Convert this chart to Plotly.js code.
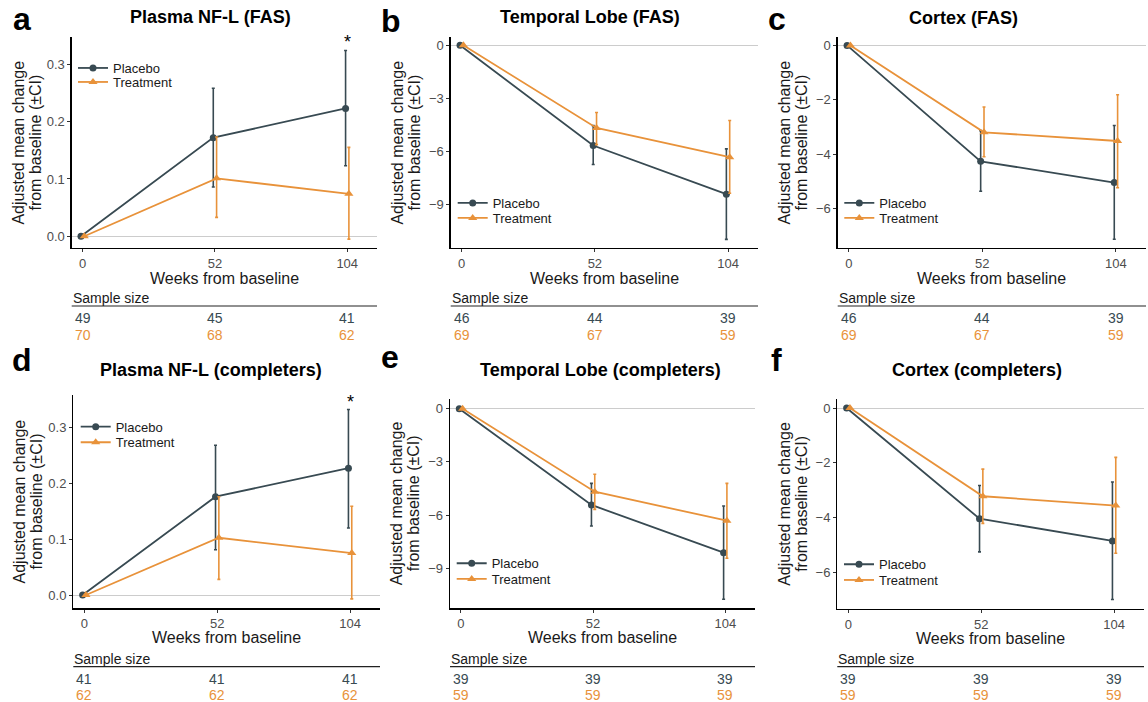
<!DOCTYPE html>
<html>
<head>
<meta charset="utf-8">
<script src="https://cdn.plot.ly/plotly-3.0.1.min.js"></script>
<style>html,body{margin:0;padding:0;background:#fff;}#chart{width:1148px;height:702px;}</style>
</head>
<body>
<div id="chart"></div>
<script>
// ---------- DATA ----------
const weeks = [0, 52, 104];
const panelLetters = ['a', 'b', 'c', 'd', 'e', 'f'];
const panelTitles = ['Plasma NF-L (FAS)', 'Temporal Lobe (FAS)', 'Cortex (FAS)',
  'Plasma NF-L (completers)', 'Temporal Lobe (completers)', 'Cortex (completers)'];
const seriesNames = ['Placebo', 'Treatment'];

const placeboMean = [
  [0, 0.172, 0.223], [0, -5.68, -8.44], [0, -4.27, -5.05],
  [0, 0.176, 0.227], [0, -5.43, -8.12], [0, -4.04, -4.85]];
const placeboLower = [
  [0, 0.086, 0.123], [0, -6.76, -11.0], [0, -5.37, -7.14],
  [0, 0.081, 0.120], [0, -6.62, -10.75], [0, -5.25, -6.99]];
const placeboUpper = [
  [0, 0.258, 0.324], [0, -4.55, -5.87], [0, -3.14, -2.95],
  [0, 0.268, 0.332], [0, -4.21, -5.49], [0, -2.83, -2.70]];
const treatMean = [
  [0, 0.101, 0.074], [0, -4.68, -6.34], [0, -3.20, -3.52],
  [0, 0.1025, 0.075], [0, -4.68, -6.32], [0, -3.22, -3.56]];
const treatLower = [
  [0, 0.033, -0.005], [0, -5.63, -8.39], [0, -4.10, -5.24],
  [0, 0.028, -0.007], [0, -5.68, -8.44], [0, -4.21, -5.30]];
const treatUpper = [
  [0, 0.173, 0.155], [0, -3.81, -4.26], [0, -2.27, -1.82],
  [0, 0.176, 0.159], [0, -3.70, -4.21], [0, -2.23, -1.80]];

const placeboN = [[49, 45, 41], [46, 44, 39], [46, 44, 39], [41, 41, 41], [39, 39, 39], [39, 39, 39]];
const treatN = [[70, 68, 62], [69, 67, 59], [69, 67, 59], [62, 62, 62], [59, 59, 59], [59, 59, 59]];

const yTickVals = [[0, 0.1, 0.2, 0.3], [0, -3, -6, -9], [0, -2, -4, -6],
  [0, 0.1, 0.2, 0.3], [0, -3, -6, -9], [0, -2, -4, -6]];
const yTickFormat = ['.1f', 'd', 'd', '.1f', 'd', 'd'];
const significantWeek = [104, null, null, 104, null, null];

// ---------- LAYOUT GEOMETRY (pixels) ----------
const W = 1148, H = 702;
const px = v => v / W;
const py = v => 1 - v / H;
const FONT = 'Liberation Sans, Arial, Helvetica, sans-serif';
const COL_P = '#384A52', COL_T = '#E8923A';
const dodge = 0.65;

const geom = [
  {x0: 71.7, x1: 377, y0: 36.7, y1: 248, yr: [-0.0204, 0.348], title: [210.5, 17.5], letter: [22, 19],
   leg: [113, 68, 82], xt: 278, ss: [298, 306, 318.4, 335]},
  {x0: 450.7, x1: 758, y0: 36.7, y1: 248, yr: [-11.49, 0.49], title: [590, 17], letter: [391, 21],
   leg: [492.7, 203, 218], xt: 278, ss: [298, 306, 318.4, 335]},
  {x0: 837.7, x1: 1146, y0: 36.7, y1: 248, yr: [-7.46, 0.32], title: [963.3, 18], letter: [777, 19],
   leg: [879.3, 203, 218], xt: 278, ss: [298, 306, 318.4, 335]},
  {x0: 73.3, x1: 380, y0: 395, y1: 608.3, yr: [-0.0238, 0.358], title: [211, 370], letter: [22, 360],
   leg: [115.7, 426.7, 442.3], xt: 637.5, ss: [658.5, 666.7, 678.5, 695]},
  {x0: 450, x1: 755, y0: 399.3, y1: 608.3, yr: [-11.26, 0.53], title: [600.7, 370], letter: [390, 357],
   leg: [491.7, 563.3, 579], xt: 637.5, ss: [658.5, 666.7, 678.5, 695]},
  {x0: 837.3, x1: 1144, y0: 399.3, y1: 608.8, yr: [-7.33, 0.32], title: [977, 370], letter: [776, 360],
   leg: [879, 564.3, 580], xt: 638, ss: [658.5, 666.7, 678.5, 695]}
];

const traces = [];
const layout = {
  width: W, height: H,
  margin: {l: 0, r: 0, t: 0, b: 0},
  paper_bgcolor: '#ffffff', plot_bgcolor: '#ffffff',
  showlegend: true,
  font: {family: FONT, color: '#1a1a1a'},
  annotations: [], shapes: []
};

geom.forEach((g, i) => {
  const k = i + 1;
  const xa = 'xaxis' + (k === 1 ? '' : k), ya = 'yaxis' + (k === 1 ? '' : k);
  const xr = 'x' + (k === 1 ? '' : k), yr = 'y' + (k === 1 ? '' : k);

  layout[xa] = {
    domain: [px(g.x0), px(g.x1)], range: [-4.3, 115.7], anchor: yr,
    tickvals: weeks, ticktext: weeks.map(String),
    showgrid: false, zeroline: false, showline: true, linecolor: '#000', linewidth: 1.3,
    ticks: 'outside', ticklen: 3, tickwidth: 1, tickcolor: '#333',
    tickfont: {family: FONT, size: 13, color: '#4D4D4D'}, fixedrange: true
  };
  layout[ya] = {
    domain: [py(g.y1), py(g.y0)], range: g.yr, anchor: xr,
    tickvals: yTickVals[i], tickformat: yTickFormat[i],
    showgrid: false, zeroline: true, zerolinecolor: '#CCCCCC', zerolinewidth: 1,
    showline: true, linecolor: '#000', linewidth: 1.3,
    ticks: 'outside', ticklen: 3, tickwidth: 1, tickcolor: '#333',
    tickfont: {family: FONT, size: 13, color: '#4D4D4D'}, fixedrange: true
  };

  const legP = 'legend' + (2 * i + 1 === 1 ? '' : 2 * i + 1);
  const legT = 'legend' + (2 * i + 2);
  [[legP, g.leg[1]], [legT, g.leg[2]]].forEach(([name, yc]) => {
    layout[name] = {
      visible: true,
      x: px(g.leg[0] - 40), y: py(yc), xanchor: 'left', yanchor: 'middle',
      bgcolor: 'rgba(0,0,0,0)', borderwidth: 0,
      font: {family: FONT, size: 13, color: '#1a1a1a'}
    };
  });

  traces.push({
    type: 'scatter', mode: 'lines+markers', name: seriesNames[0], showlegend: true,
    x: weeks.map(w => w - dodge), y: placeboMean[i], xaxis: xr, yaxis: yr, legend: legP,
    line: {color: COL_P, width: 1.8}, marker: {color: COL_P, size: 7, symbol: 'circle'},
    error_y: {type: 'data', symmetric: false,
      array: placeboUpper[i].map((u, j) => u - placeboMean[i][j]),
      arrayminus: placeboLower[i].map((l, j) => placeboMean[i][j] - l),
      color: COL_P, thickness: 1.6, width: 1.5},
    hoverinfo: 'skip'
  });
  traces.push({
    type: 'scatter', mode: 'lines+markers', name: seriesNames[1], showlegend: true,
    x: weeks.map(w => w + dodge), y: treatMean[i], xaxis: xr, yaxis: yr, legend: legT,
    line: {color: COL_T, width: 1.8}, marker: {color: COL_T, size: 8, symbol: 'triangle-up'},
    error_y: {type: 'data', symmetric: false,
      array: treatUpper[i].map((u, j) => u - treatMean[i][j]),
      arrayminus: treatLower[i].map((l, j) => treatMean[i][j] - l),
      color: COL_T, thickness: 1.6, width: 1.5},
    hoverinfo: 'skip'
  });

  const A = layout.annotations;
  // panel letter
  A.push({text: '<b>' + panelLetters[i] + '</b>', xref: 'paper', yref: 'paper',
    x: px(g.letter[0]), y: py(g.letter[1]), xanchor: 'center', yanchor: 'middle',
    showarrow: false, font: {family: FONT, size: 32, color: '#000'}});
  // panel title
  A.push({text: '<b>' + panelTitles[i] + '</b>', xref: 'paper', yref: 'paper',
    x: px(g.title[0]), y: py(g.title[1]), xanchor: 'center', yanchor: 'middle',
    showarrow: false, font: {family: FONT, size: 18, color: '#000'}});
  // y axis title (two lines)
  const yc = (g.y0 + g.y1) / 2;
  A.push({text: 'Adjusted mean change', xref: 'paper', yref: 'paper', textangle: -90,
    x: px(g.x0 - 53.5), y: py(yc), xanchor: 'center', yanchor: 'middle',
    showarrow: false, font: {family: FONT, size: 16, color: '#1a1a1a'}});
  A.push({text: 'from baseline (±CI)', xref: 'paper', yref: 'paper', textangle: -90,
    x: px(g.x0 - 36.5), y: py(yc), xanchor: 'center', yanchor: 'middle',
    showarrow: false, font: {family: FONT, size: 16, color: '#1a1a1a'}});
  // x axis title
  A.push({text: 'Weeks from baseline', xref: 'paper', yref: 'paper',
    x: px((g.x0 + g.x1) / 2), y: py(g.xt), xanchor: 'center', yanchor: 'middle',
    showarrow: false, font: {family: FONT, size: 16, color: '#1a1a1a'}});
  // sample size table
  A.push({text: 'Sample size', xref: 'paper', yref: 'paper',
    x: px(g.x0 - 1), y: py(g.ss[0]), xanchor: 'left', yanchor: 'middle',
    showarrow: false, font: {family: FONT, size: 14, color: '#1a1a1a'}});
  layout.shapes.push({type: 'line', xref: xr + ' domain', yref: 'paper',
    x0: 0, x1: 1, y0: py(g.ss[1]), y1: py(g.ss[1]), line: {color: '#222', width: 1.2}});
  weeks.forEach((w, j) => {
    A.push({text: String(placeboN[i][j]), xref: xr, yref: 'paper', x: w, y: py(g.ss[2]),
      xanchor: 'center', yanchor: 'middle', showarrow: false,
      font: {family: FONT, size: 14, color: COL_P}});
    A.push({text: String(treatN[i][j]), xref: xr, yref: 'paper', x: w, y: py(g.ss[3]),
      xanchor: 'center', yanchor: 'middle', showarrow: false,
      font: {family: FONT, size: 14, color: COL_T}});
  });
  // significance star
  if (significantWeek[i] !== null) {
    const j = weeks.indexOf(significantWeek[i]);
    A.push({text: '*', xref: xr, yref: yr, x: significantWeek[i], y: placeboUpper[i][j],
      xanchor: 'center', yanchor: 'bottom', yshift: -4, showarrow: false,
      font: {family: FONT, size: 18, color: '#000'}});
  }
});

Plotly.newPlot('chart', traces, layout, {staticPlot: true, displayModeBar: false});
</script>
</body>
</html>
